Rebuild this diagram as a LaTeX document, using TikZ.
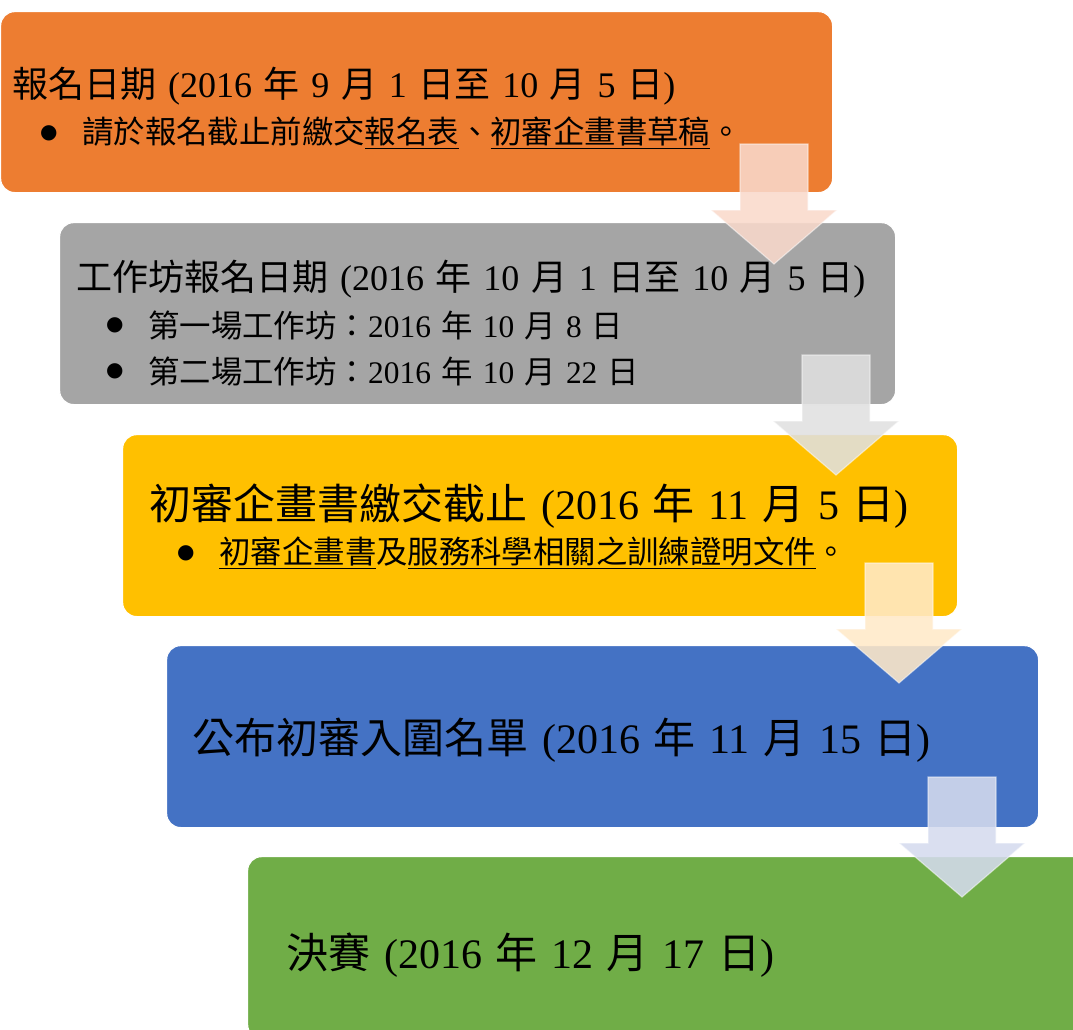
\documentclass[tikz,border=0pt]{standalone}
\usepackage{fontspec}
\setmainfont{Liberation Serif}[WordSpace=1.3]
\newfontfamily\tc{Noto Sans CJK TC}
\newfontfamily\sym{DejaVu Sans}

\definecolor{regorange}{HTML}{ED7D31}
\definecolor{workgray}{HTML}{A5A5A5}
\definecolor{planyellow}{HTML}{FFC000}
\definecolor{listblue}{HTML}{4472C4}
\definecolor{finalgreen}{HTML}{70AD47}
\definecolor{arrorange}{HTML}{F9D9CB}
\definecolor{arrgray}{HTML}{E0E0E0}
\definecolor{arryellow}{HTML}{FFE9C8}
\definecolor{arrblue}{HTML}{D5DBEE}

\begin{document}
\begin{tikzpicture}[x=0.5pt,y=-0.5pt,
stage/.style={rectangle,rounded corners=7pt,draw=white,line width=0.6pt,
    inner sep=0pt,anchor=north west,minimum height=91pt},
head/.style={anchor=base west,inner sep=0pt,font=\fontsize{18}{22}\selectfont},
bighead/.style={anchor=base west,inner sep=0pt,font=\fontsize{21}{25}\selectfont},
item/.style={anchor=base west,inner sep=0pt,font=\fontsize{15.7}{19}\selectfont,
    label={[inner sep=0pt,label distance=12pt,font=\sym\fontsize{10}{10}\selectfont]left:●}},
flow/.style={fill opacity=0.88,draw opacity=0.5,line width=0.6pt,draw=white}]
\useasboundingbox (0,0) rectangle (1073,1030);
\clip (0,0) rectangle (1073,1030);

\node (reg) [stage,fill=regorange,minimum width=416pt,minimum height=90.5pt] at (0,11) {};
\node (work) [stage,fill=workgray,minimum width=418pt] at (59,222) {};
\node (plan) [stage,fill=planyellow,minimum width=417.5pt] at (122,434) {};
\node (shortlist) [stage,fill=listblue,minimum width=436pt] at (166,645) {};
\node (final) [stage,fill=finalgreen,minimum width=450pt] at (247,856) {};

\foreach \cx/\ty/\col in {774/144/arrorange,836/355/arrgray,899/563/arryellow,962/777/arrblue}
  \filldraw[flow,fill=\col] (\cx-34,\ty) -- (\cx+34,\ty) -- (\cx+34,\ty+66) -- (\cx+63,\ty+66)
    -- (\cx,\ty+120) -- (\cx-63,\ty+66) -- (\cx-34,\ty+66) -- cycle;

\node (regdate) [head] at (12,97) {{\tc 報名日期} (2016 {\tc 年} 9 {\tc 月} 1 {\tc 日至} 10 {\tc 月} 5 {\tc 日})};
\node (regnote) [item] at (82,143) {{\tc 請於報名截止前繳交}\underline{\tc 報名表}{\tc 、}\underline{\tc 初審企畫書草稿}{\tc 。}};

\node (workdate) [head] at (76,290) {{\tc 工作坊報名日期} (2016 {\tc 年} 10 {\tc 月} 1 {\tc 日至} 10 {\tc 月} 5 {\tc 日})};
\node (shop1) [item] at (148,337) {{\tc 第一場工作坊：}2016 {\tc 年} 10 {\tc 月} 8 {\tc 日}};
\node (shop2) [item] at (148,383) {{\tc 第二場工作坊：}2016 {\tc 年} 10 {\tc 月} 22 {\tc 日}};

\node (plandate) [bighead] at (149,519) {{\tc 初審企畫書繳交截止} (2016 {\tc 年} 11 {\tc 月} 5 {\tc 日})};
\node (plannote) [item] at (219,563) {\underline{\tc 初審企畫書}{\tc 及}\underline{\tc 服務科學相關之訓練證明文件}{\tc 。}};

\node (listdate) [bighead] at (192,753) {{\tc 公布初審入圍名單} (2016 {\tc 年} 11 {\tc 月} 15 {\tc 日})};

\node (finaldate) [bighead] at (286,968) {{\tc 決賽} (2016 {\tc 年} 12 {\tc 月} 17 {\tc 日})};

\end{tikzpicture}
\end{document}
